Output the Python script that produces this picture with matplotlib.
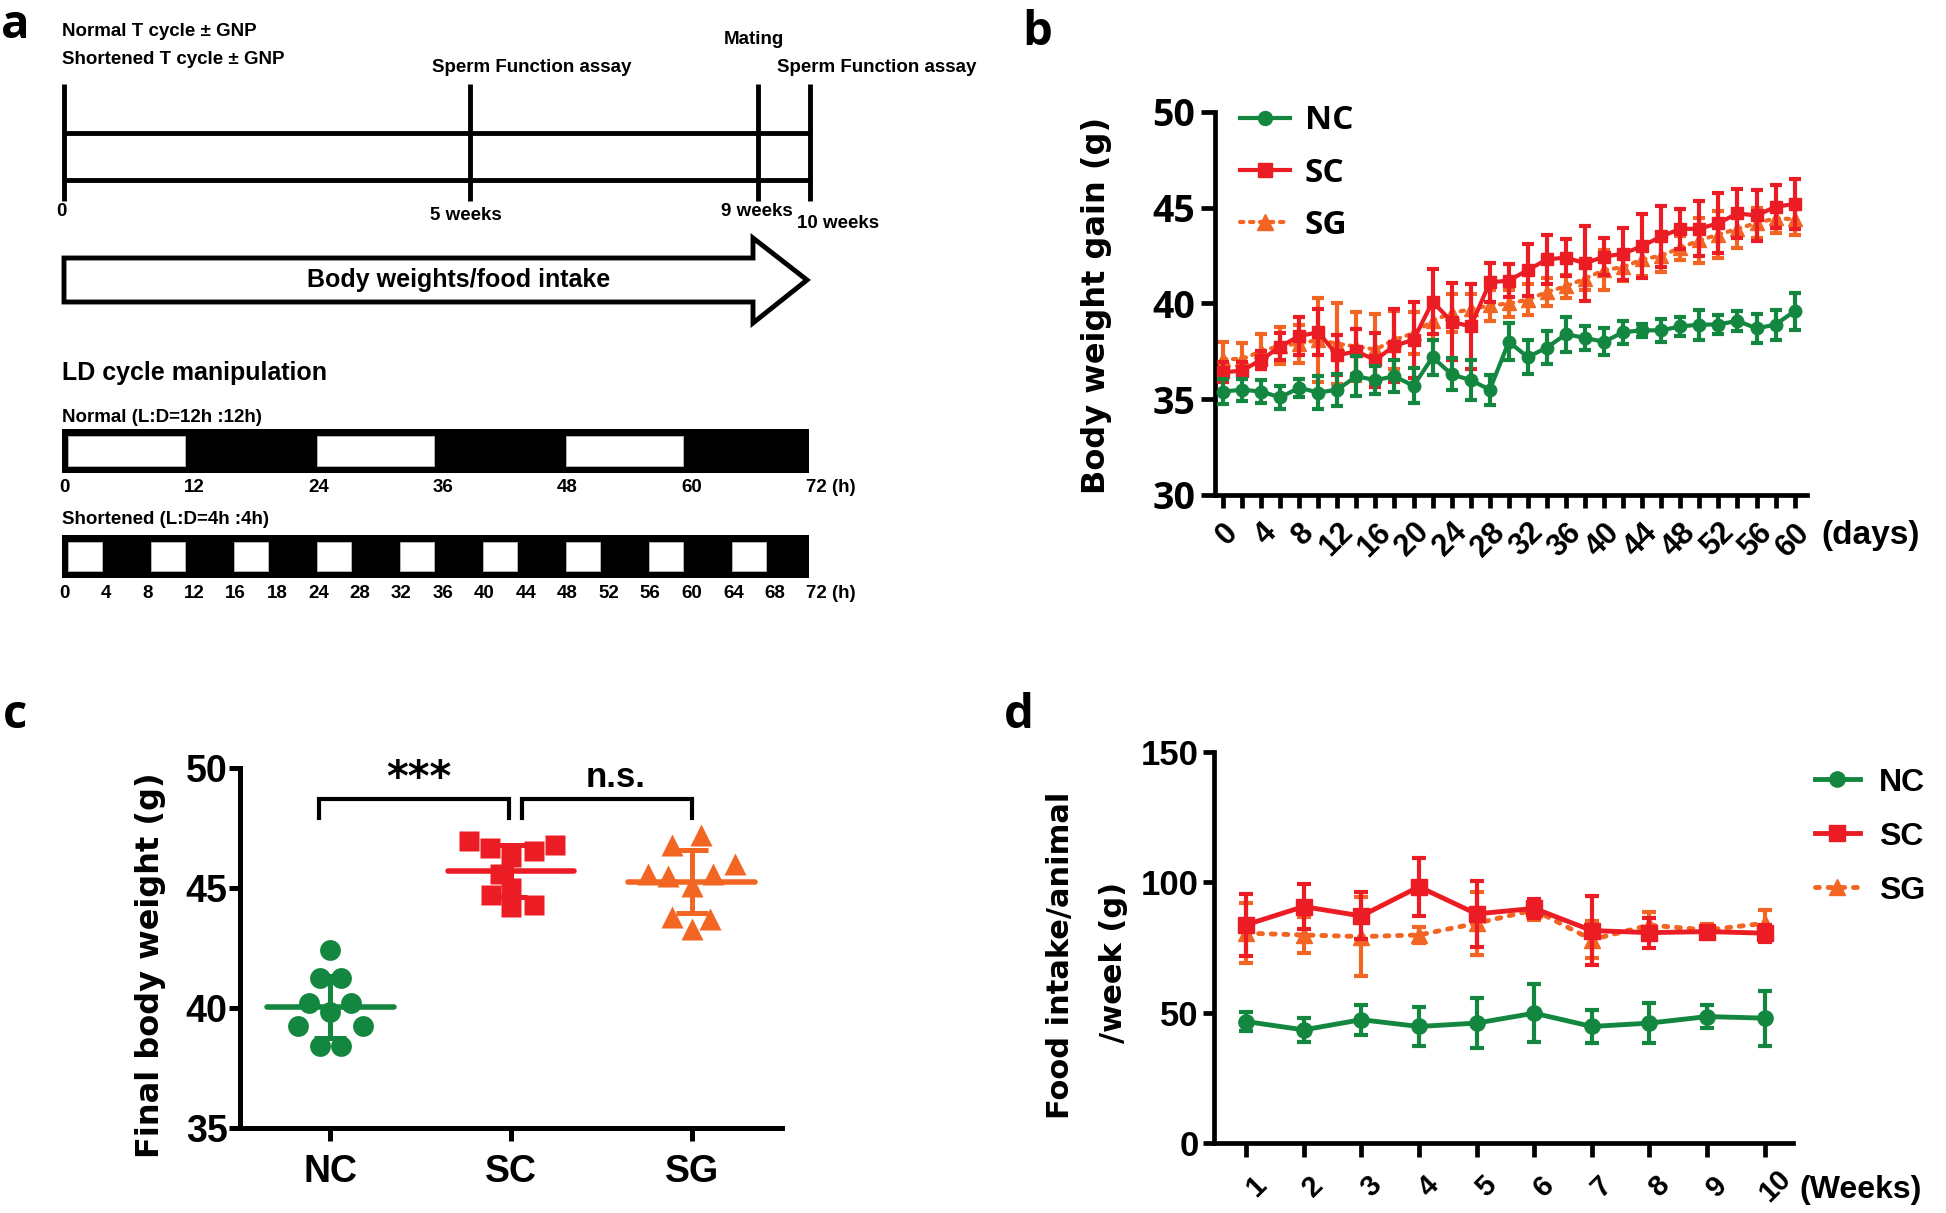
import matplotlib
matplotlib.use("Agg")
import numpy as np
import matplotlib.pyplot as plt
from matplotlib.lines import Line2D
from matplotlib.patches import Polygon, Rectangle

W, H = 1946, 1213

GREEN = "#13873f"
RED = "#ec1c24"
ORANGE = "#f26522"

ARIAL = ["Liberation Sans", "DejaVu Sans"]
CALIBRI = ["Open Sans", "DejaVu Sans"]
VERDANA = ["DejaVu Sans"]

# ---------------- data ----------------
# panel a: LD cycles (hours)
normal_light = [(0, 12), (24, 36), (48, 60)]
short_light = [(0, 4), (8, 12), (16, 20), (24, 28), (32, 36), (40, 44), (48, 52), (56, 60), (64, 68)]
normal_ticks = [0, 12, 24, 36, 48, 60, 72]
normal_labels = ["0", "12", "24", "36", "48", "60", "72 (h)"]
short_ticks = [0, 4, 8, 12, 16, 20, 24, 28, 32, 36, 40, 44, 48, 52, 56, 60, 64, 68, 72]
short_labels = ["0", "4", "8", "12", "16", "18", "24", "28", "32", "36", "40", "44",
                "48", "52", "56", "60", "64", "68", "72 (h)"]

# panel b: body weight (g) every 2 days
days = [0, 2, 4, 6, 8, 10, 12, 14, 16, 18, 20, 22, 24, 26, 28, 30,
        32, 34, 36, 38, 40, 42, 44, 46, 48, 50, 52, 54, 56, 58, 60]
nc_b = [35.4, 35.5, 35.4, 35.1, 35.6, 35.35, 35.5, 36.2, 36.0, 36.2, 35.7, 37.2, 36.3, 36.0, 35.5,
        38.0, 37.2, 37.7, 38.4, 38.2, 38.0, 38.5, 38.6, 38.6, 38.8, 38.9, 38.9, 39.1, 38.7, 38.9, 39.6]
nc_b_err = [0.65, 0.57, 0.6, 0.61, 0.48, 0.87, 0.83, 1.04, 0.74, 0.83, 0.91, 0.91, 0.83, 1.04, 0.78,
            0.96, 0.87, 0.87, 0.91, 0.61, 0.7, 0.61, 0.35, 0.61, 0.48, 0.78, 0.48, 0.52, 0.74, 0.78, 0.96]
sc_b = [36.4, 36.5, 37.05, 37.75, 38.3, 38.5, 37.3, 37.5, 37.05, 37.8, 38.1, 40.1, 39.05, 38.8, 41.1,
        41.2, 41.75, 42.3, 42.4, 42.1, 42.45, 42.6, 43.0, 43.5, 43.9, 43.9, 44.2, 44.7, 44.6, 45.05, 45.2]
sc_b_err = [0.52, 0.45, 0.48, 0.7, 1.0, 1.2, 1.05, 1.17, 1.4, 1.9, 2.0, 1.7, 2.0, 2.2, 1.0,
            0.87, 1.35, 1.3, 0.96, 1.95, 0.96, 1.35, 1.65, 1.6, 1.05, 1.43, 1.57, 1.3, 1.35, 1.13, 1.3]
sg_b = [37.1, 37.1, 37.5, 37.8, 37.9, 38.1, 37.9, 37.75, 37.6, 38.1, 38.45, 39.1, 39.5, 39.7, 39.9,
        40.0, 40.2, 40.6, 40.9, 41.3, 41.75, 41.9, 42.3, 42.5, 42.9, 43.3, 43.6, 43.9, 44.2, 44.45, 44.4]
sg_b_err = [0.9, 0.85, 0.9, 0.95, 1.0, 2.2, 2.1, 1.8, 1.85, 1.5, 1.1, 1.0, 1.0, 0.8, 0.8,
            0.7, 0.8, 0.75, 0.6, 0.6, 1.05, 0.7, 0.85, 0.85, 0.65, 1.17, 1.25, 1.0, 0.8, 0.75, 0.8]
day_ticks = [0, 4, 8, 12, 16, 20, 24, 28, 32, 36, 40, 44, 48, 52, 56, 60]

# panel c: final body weight (g), individual animals
groups = ["NC", "SC", "SG"]
nc_c = [42.4, 41.25, 41.25, 40.2, 39.85, 40.2, 39.25, 39.25, 38.4, 38.4]
sc_c = [46.94, 46.67, 46.3, 46.53, 46.8, 45.6, 44.72, 44.3, 44.2, 45.0]
sg_c = [47.2, 46.8, 46.0, 45.6, 45.5, 45.6, 45.1, 43.8, 43.7, 43.3]
nc_jit = [0.0, -0.058, 0.058, -0.116, 0.0, 0.116, -0.18, 0.18, -0.058, 0.058]
sc_jit = [-0.23, -0.117, 0.0, 0.125, 0.245, -0.06, -0.108, 0.125, 0.0, 0.0]
sg_jit = [0.05, -0.11, 0.24, -0.24, -0.13, 0.12, 0.0, -0.11, 0.10, 0.0]

# panel d: food intake per animal per week (g)
weeks = [1, 2, 3, 4, 5, 6, 7, 8, 9, 10]
nc_d = [46.6, 43.4, 47.3, 44.7, 46.0, 49.8, 44.7, 46.0, 48.5, 47.9]
nc_d_err = [3.5, 4.5, 5.7, 7.3, 9.6, 11.2, 6.4, 7.7, 4.5, 10.5]
sc_d = [83.7, 90.7, 87.1, 98.3, 87.9, 90.0, 81.5, 80.7, 81.1, 80.5]
sc_d_err = [11.8, 8.6, 9.0, 11.2, 12.6, 3.7, 13.3, 5.7, 2.0, 3.2]
sg_d = [80.5, 79.8, 79.2, 79.8, 84.3, 89.4, 78.0, 83.6, 81.7, 84.3]
sg_d_err = [11.5, 7.0, 15.0, 3.0, 12.0, 4.0, 7.0, 5.0, 2.5, 5.0]


def box(x0, y0, x1, y1):
    """pixel box (top-left origin) -> figure rect"""
    return [x0 / W, 1 - y1 / H, (x1 - x0) / W, (y1 - y0) / H]


def style_axes(ax, lw=3.4):
    for s in ["top", "right"]:
        ax.spines[s].set_visible(False)
    for s in ["left", "bottom"]:
        ax.spines[s].set_linewidth(lw)
    ax.tick_params(which="both", direction="out", width=lw, color="black")


fig = plt.figure(figsize=(W / 100, H / 100), dpi=100)

# ---------------- panel a: schematic ----------------
ax_a = fig.add_axes([0, 0, 1, 1])
ax_a.set_xlim(0, W)
ax_a.set_ylim(H, 0)
ax_a.axis("off")

txt = dict(family=ARIAL, weight="bold", color="black")
ax_a.text(62, 32, "Normal T cycle \u00b1 GNP", fontsize=13.5, va="center", **txt)
ax_a.text(62, 60, "Shortened T cycle \u00b1 GNP", fontsize=13.5, va="center", **txt)

event_x = [64, 470, 758, 810]
ax_a.plot([event_x[0], event_x[-1]], [133, 133], color="black", lw=3.5, solid_capstyle="butt")
ax_a.plot([event_x[0], event_x[-1]], [180, 180], color="black", lw=3.5, solid_capstyle="butt")
for ex in event_x:
    ax_a.plot([ex, ex], [84, 201], color="black", lw=3.5, solid_capstyle="butt")

ax_a.text(532, 67, "Sperm Function assay", fontsize=13.5, ha="center", va="center", **txt)
ax_a.text(724, 39, "Mating", fontsize=13.5, ha="left", va="center", **txt)
ax_a.text(777, 67, "Sperm Function assay", fontsize=13.5, ha="left", va="center", **txt)
ax_a.text(61, 212, "0", fontsize=13.5, ha="center", va="center", **txt)
ax_a.text(466, 215, "5 weeks", fontsize=13.5, ha="center", va="center", **txt)
ax_a.text(757, 212, "9 weeks", fontsize=13.5, ha="center", va="center", **txt)
ax_a.text(838, 224, "10 weeks", fontsize=13.5, ha="center", va="center", **txt)

arrow = Polygon([(64, 258), (753, 258), (753, 238), (807, 280), (753, 323), (753, 302), (64, 302)],
                closed=True, facecolor="white", edgecolor="black", lw=3.5, joinstyle="miter")
ax_a.add_patch(arrow)
ax_a.text(459, 280, "Body weights/food intake", fontsize=18, ha="center", va="center", **txt)

ax_a.text(62, 373, "LD cycle manipulation", fontsize=18, va="center", **txt)
ax_a.text(62, 417, "Normal (L:D=12h :12h)", fontsize=13.5, va="center", **txt)
ax_a.text(62, 520, "Shortened (L:D=4h :4h)", fontsize=13.5, va="center", **txt)


def ld_bar(rect, light, ticks, labels, label_y):
    ax = fig.add_axes(rect)
    ax.set_xlim(0, 72)
    ax.set_ylim(0, 1)
    ax.axis("off")
    ax.add_patch(Rectangle((0, 0), 72, 1, facecolor="black", edgecolor="none"))
    for s, e in light:
        ax.add_patch(Rectangle((s + 0.55, 0.16), e - s - 0.65, 0.68,
                               facecolor="white", edgecolor="#bbbbbb", lw=0.6))
    for t, lab in zip(ticks, labels):
        ax.text(t - 0.3, label_y, lab, fontsize=13.5, ha="left", va="center",
                clip_on=False, **txt)
    return ax


ld_bar(box(62, 429, 809, 473), normal_light, normal_ticks, normal_labels, -0.33)
ld_bar(box(62, 535, 809, 578), short_light, short_ticks, short_labels, -0.35)

# ---------------- panel b ----------------
ax_b = fig.add_axes(box(1215, 112, 1807, 495))
eb = dict(lw=3, elinewidth=3, capsize=4.5, capthick=3)
ax_b.errorbar(days, sg_b, yerr=sg_b_err, color=ORANGE, ls=(0, (0.8, 1.6)), marker="^", ms=10,
              dash_capstyle="round", zorder=2, **eb)
ax_b.errorbar(days, sc_b, yerr=sc_b_err, color=RED, ls="-", marker="s", ms=9, zorder=3, **eb)
ax_b.errorbar(days, nc_b, yerr=nc_b_err, color=GREEN, ls="-", marker="o", ms=9, zorder=4, **eb)
ax_b.set_xlim(-0.84, 61.3)
ax_b.set_ylim(30, 50)
style_axes(ax_b)
ax_b.set_yticks([30, 35, 40, 45, 50])
ax_b.set_yticklabels(["30", "35", "40", "45", "50"], family=CALIBRI, weight="bold", fontsize=27)
ax_b.set_xticks(day_ticks)
ax_b.set_xticks([d for d in days if d not in day_ticks], minor=True)
ax_b.set_xticklabels([str(d) for d in day_ticks], family=ARIAL, weight="bold", fontsize=22,
                     rotation=45, ha="right", va="top", rotation_mode="anchor")
ax_b.tick_params(axis="x", which="both", length=9, pad=7)
ax_b.tick_params(axis="y", length=10, pad=4)
fig.text(1821 / W, 1 - 535 / H, "(days)", family=ARIAL, weight="bold", fontsize=24,
         ha="left", va="center")
fig.text(1097 / W, 1 - 305 / H, "Body weight gain (g)", family=VERDANA, weight="bold",
         fontsize=23, rotation=90, ha="center", va="center")

handles_b = [
    Line2D([], [], color=GREEN, lw=3, marker="o", ms=10),
    Line2D([], [], color=RED, lw=3, marker="s", ms=10),
    Line2D([], [], color=ORANGE, lw=3, ls=(0, (0.8, 1.6)), marker="^", ms=11, dash_capstyle="round"),
]
ax_b.legend(handles_b, groups, loc="upper left", bbox_to_anchor=(0.042, 1.02), frameon=False,
            prop=dict(family=CALIBRI, weight="bold", size=24), handlelength=1.5,
            handletextpad=0.45, labelspacing=0.58, borderpad=0, borderaxespad=0)

# ---------------- panel c ----------------
ax_c = fig.add_axes(box(240, 768, 782, 1128))
colors_c = [GREEN, RED, ORANGE]
markers_c = ["o", "s", "^"]
sizes_c = [15, 14.5, 16]
for i, (vals, jit) in enumerate([(nc_c, nc_jit), (sc_c, sc_jit), (sg_c, sg_jit)]):
    xs = [i + j for j in jit]
    ax_c.plot(xs, vals, ls="none", marker=markers_c[i], ms=sizes_c[i], color=colors_c[i],
              mec="none", zorder=2, clip_on=False)
    m = np.mean(vals)
    sd = np.std(vals, ddof=1)
    ax_c.plot([i - 0.35, i + 0.35], [m, m], color=colors_c[i], lw=4, zorder=3,
              solid_capstyle="round")
    ax_c.errorbar([i], [m], yerr=[sd], color=colors_c[i], lw=0, elinewidth=3.6,
                  capsize=11.5, capthick=3.6, zorder=3)
ax_c.set_xlim(-0.5, 2.5)
ax_c.set_ylim(35, 50)
style_axes(ax_c, lw=3.6)
ax_c.set_yticks([35, 40, 45, 50])
ax_c.set_yticklabels(["35", "40", "45", "50"], family=ARIAL, weight="bold", fontsize=27)
ax_c.tick_params(axis="y", length=8, pad=1)
ax_c.set_xticks([0, 1, 2])
ax_c.set_xticklabels(groups, family=ARIAL, weight="bold", fontsize=27)
ax_c.tick_params(axis="x", length=9, pad=10)
fig.text(150 / W, 1 - 965 / H, "Final body weight (g)", family=VERDANA, weight="bold",
         fontsize=23, rotation=90, ha="center", va="center")

# significance brackets
for x0, x1 in [(-0.06, 0.99), (1.06, 2.0)]:
    ax_c.plot([x0, x0, x1, x1], [47.9, 48.7, 48.7, 47.9], color="black", lw=3,
              clip_on=False, solid_joinstyle="miter")
ax_c.text(0.49, 49.55, "***", family=VERDANA, weight="bold", fontsize=30, ha="center", va="center")
ax_c.text(1.58, 49.6, "n.s.", family=ARIAL, weight="bold", fontsize=25, ha="center", va="center")

# ---------------- panel d ----------------
ax_d = fig.add_axes(box(1214, 752, 1793, 1143))
eb_d = dict(lw=3.5, elinewidth=3, capsize=5, capthick=3)
ax_d.errorbar(weeks, sg_d, yerr=sg_d_err, color=ORANGE, ls=(0, (0.8, 1.8)), marker="^", ms=11,
              dash_capstyle="round", zorder=2, **eb_d)
ax_d.errorbar(weeks, sc_d, yerr=sc_d_err, color=RED, ls="-", marker="s", ms=11, zorder=3, **eb_d)
ax_d.errorbar(weeks, nc_d, yerr=nc_d_err, color=GREEN, ls="-", marker="o", ms=11, zorder=4, **eb_d)
ax_d.set_xlim(0.445, 10.49)
ax_d.set_ylim(0, 150)
style_axes(ax_d)
ax_d.set_yticks([0, 50, 100, 150])
ax_d.set_yticklabels(["0", "50", "100", "150"], family=ARIAL, weight="bold", fontsize=25)
ax_d.tick_params(axis="y", length=8, pad=3)
ax_d.set_xticks(weeks)
ax_d.set_xticklabels([str(w) for w in weeks], family=ARIAL, weight="bold", fontsize=21,
                     rotation=45, ha="center", va="top", rotation_mode="anchor")
ax_d.tick_params(axis="x", length=10, pad=14)
fig.text(1799 / W, 1 - 1190 / H, "(Weeks)", family=ARIAL, weight="bold", fontsize=23,
         ha="left", va="center")
fig.text(1060 / W, 1 - 955 / H, "Food intake/animal", family=VERDANA, weight="bold",
         fontsize=22, rotation=90, ha="center", va="center")
fig.text(1114 / W, 1 - 962 / H, "/week (g)", family=VERDANA, weight="bold",
         fontsize=22, rotation=90, ha="center", va="center")

handles_d = [
    Line2D([], [], color=GREEN, lw=3.5, marker="o", ms=11),
    Line2D([], [], color=RED, lw=3.5, marker="s", ms=11),
    Line2D([], [], color=ORANGE, lw=3.5, ls=(0, (0.8, 1.8)), marker="^", ms=12, dash_capstyle="round"),
]
ax_d.legend(handles_d, groups, loc="upper left", bbox_to_anchor=(1.038, 0.96), frameon=False,
            prop=dict(family=ARIAL, weight="bold", size=23), handlelength=1.4,
            handletextpad=0.6, labelspacing=0.75, borderpad=0, borderaxespad=0)

# ---------------- panel letters ----------------
letter = dict(family=CALIBRI, weight="bold", fontsize=34, va="baseline", ha="left")
fig.text(1 / W, 1 - 38 / H, "a", **letter)
fig.text(1022 / W, 1 - 45 / H, "b", **letter)
fig.text(3 / W, 1 - 728 / H, "c", **letter)
fig.text(1004 / W, 1 - 728 / H, "d", **letter)

fig.savefig("out.png", dpi=100, facecolor="white")
